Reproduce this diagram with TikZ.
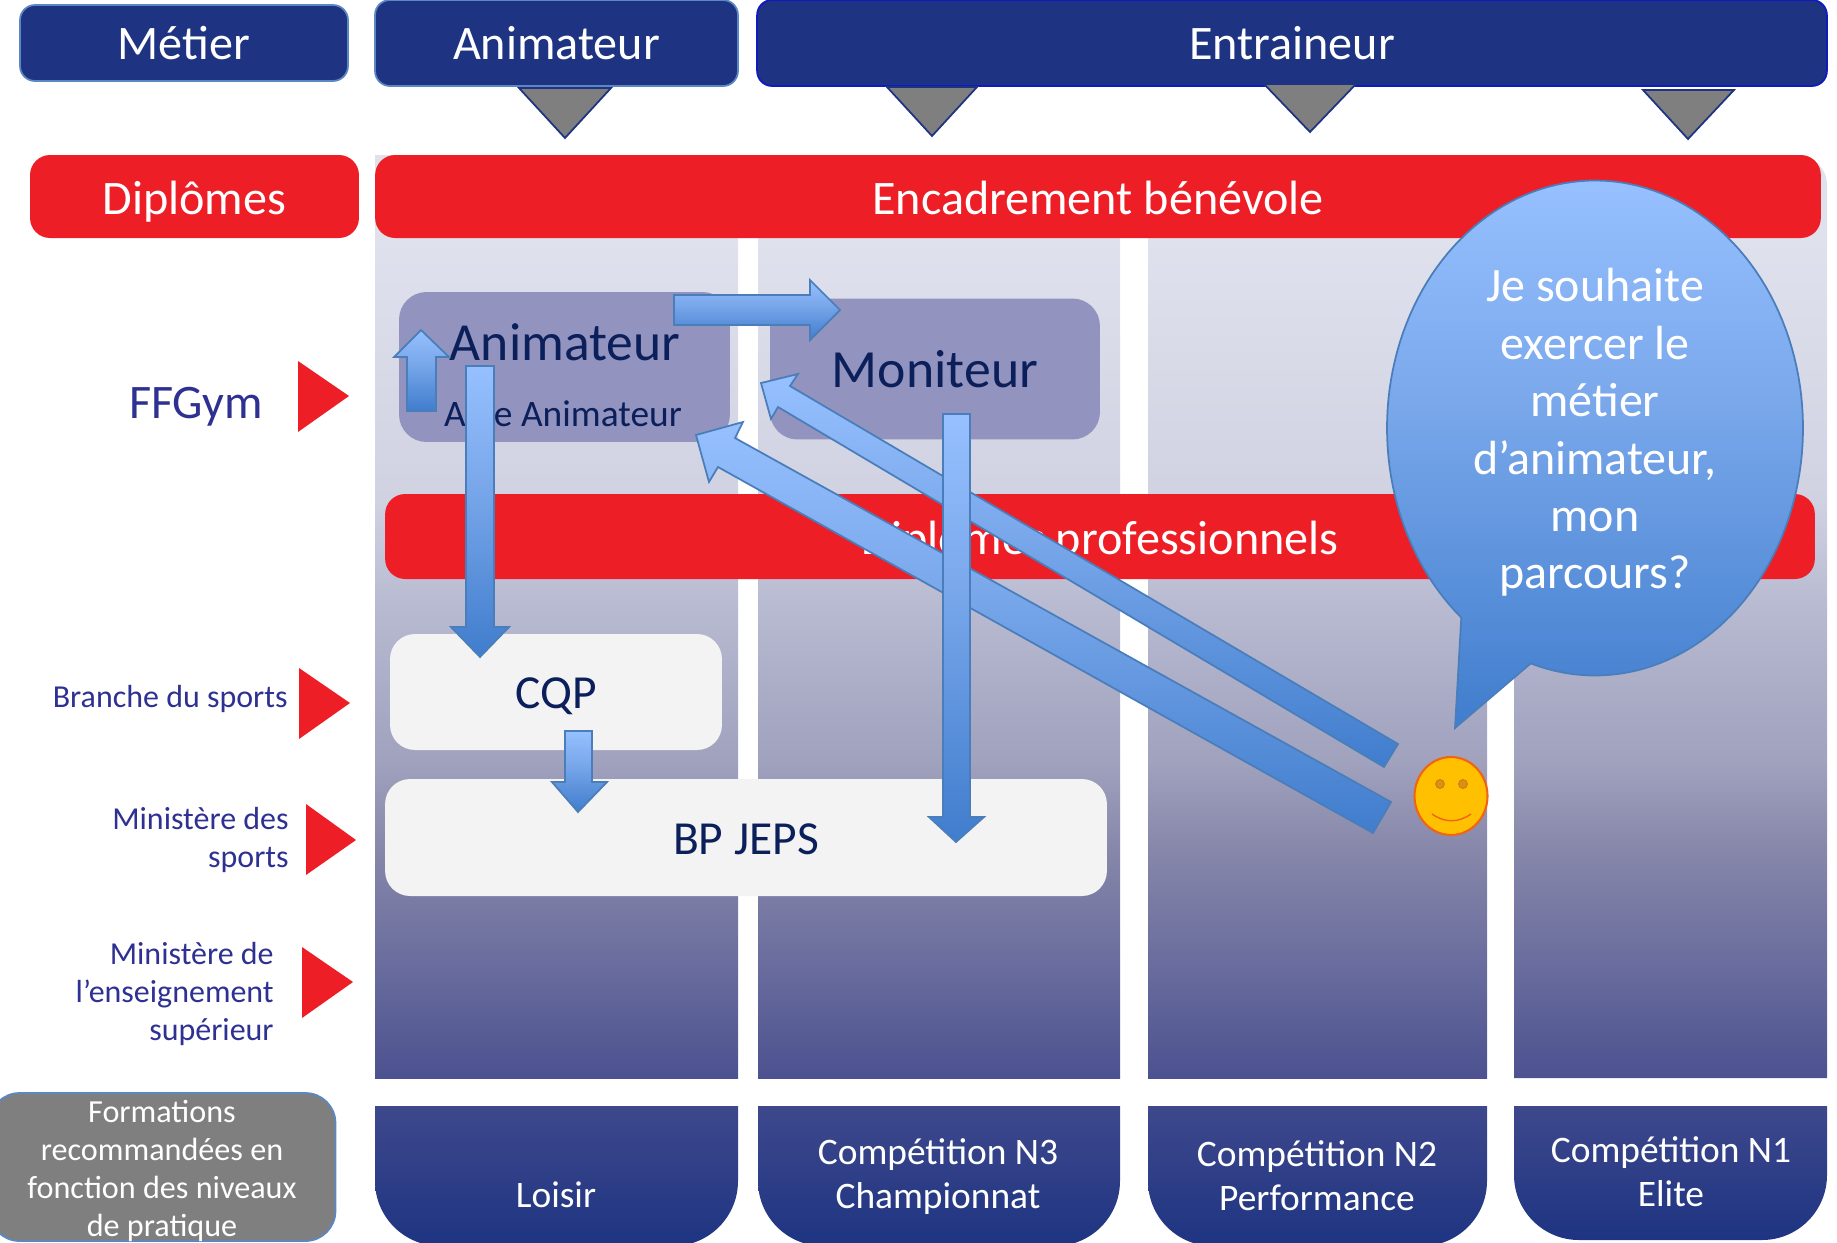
\documentclass[tikz,border=0pt]{standalone}
\usepackage{fontspec}
\setmainfont{Carlito}
\usetikzlibrary{positioning}
\definecolor{navy}{RGB}{30,52,130}
\definecolor{navytop}{RGB}{62,72,140}
\definecolor{navytext}{RGB}{11,31,91}
\definecolor{redbar}{RGB}{238,30,38}
\definecolor{labelblue}{RGB}{46,48,146}
\definecolor{greybox}{RGB}{127,127,127}
\definecolor{edgeblue}{RGB}{91,135,195}
\definecolor{purplebox}{RGB}{146,147,190}
\definecolor{palebox}{RGB}{243,243,243}
\definecolor{arrowtop}{RGB}{150,192,255}
\definecolor{arrowmid}{RGB}{122,168,235}
\definecolor{arrowbot}{RGB}{64,125,205}
\definecolor{arrowline}{RGB}{74,126,187}
\definecolor{smileface}{RGB}{255,192,0}
\definecolor{smileedge}{RGB}{240,100,20}
\definecolor{smileeye}{RGB}{205,150,20}
\definecolor{colA}{RGB}{76,82,144}
\definecolor{colB}{RGB}{135,135,170}
\definecolor{colC}{RGB}{160,162,190}
\definecolor{colD}{RGB}{185,187,210}
\definecolor{colE}{RGB}{208,210,226}
\definecolor{colF}{RGB}{223,225,237}
\pgfdeclareverticalshading{colgrad}{100bp}{
  color(0bp)=(colA);
  color(25bp)=(colA);
  color(37.4bp)=(colB);
  color(42.2bp)=(colC);
  color(50.9bp)=(colD);
  color(56.3bp)=(colE);
  color(70.5bp)=(colF);
  color(100bp)=(colF)}
\pgfdeclareverticalshading{arrowgrad}{100bp}{
  color(0bp)=(arrowbot);
  color(25bp)=(arrowbot);
  color(55bp)=(arrowmid);
  color(75bp)=(arrowtop);
  color(100bp)=(arrowtop)}
\tikzset{
  headbox/.style={draw=edgeblue, line width=1pt, fill=navy, rounded corners=0.3cm, inner sep=0, text=white, text height=18.4pt, text depth=0pt, font=\fontsize{27.4}{32}\selectfont},
  redbox/.style={fill=redbar, rounded corners=0.4cm, inner sep=0, text=white, text height=20pt, text depth=0pt, font=\fontsize{27.4}{32}\selectfont},
  rolebox/.style={fill=purplebox, rounded corners=0.55cm, inner sep=0},
  whitebox/.style={fill=palebox, rounded corners=0.5cm, inner sep=0, text=navytext, text height=19pt, text depth=0pt, font=\fontsize{27}{32}\selectfont},
  pointer/.style={draw=navy, line width=1pt, fill=greybox},
  redmark/.style={fill=redbar},
  sidelabel/.style={text=labelblue, align=right, inner sep=0, font=\fontsize{18.2}{21.6}\selectfont},
  levelbox/.style={top color=navytop, bottom color=navy},
  leveltext/.style={text=white, align=center, inner sep=0, font=\fontsize{21.3}{25}\selectfont},
  bluearrow/.style={draw=arrowline, line width=1pt, shading=arrowgrad},
}
\begin{document}
\begin{tikzpicture}[x=0.02cm,y=-0.02cm]
  \useasboundingbox (0,0) rectangle (1837,1242);
  \clip (0,0) rectangle (1837,1242);

  % Level columns
  \shade[shading=colgrad] (375,155) rectangle (738,1078);
  \shade[shading=colgrad] (758,155) rectangle (1120,1078);
  \shade[shading=colgrad] (1148,155) rectangle (1487,1078);
  \shade[shading=colgrad] (1514,1078) -- (1514,155) [rounded corners=0.6cm] -- (1827,155) [sharp corners] -- (1827,1078) -- cycle;

  % Header row
  \node[headbox, minimum width=6.56cm, minimum height=1.52cm] (metier) at (184,43) {Métier};
  \node[headbox, minimum width=7.26cm, minimum height=1.72cm] (animateur) at (556.5,43) {Animateur};
  \node[headbox, draw=blue!50!navy, minimum width=21.4cm, minimum height=1.72cm] (entraineur) at (1292,43) {Entraineur};

  \draw[pointer] (519,88) -- (611,88) -- (565,138) -- cycle;
  \draw[pointer] (887,87) -- (977,87) -- (932,136) -- cycle;
  \draw[pointer] (1264,84) -- (1356,84) -- (1310,132) -- cycle;
  \draw[pointer] (1643,90) -- (1734,90) -- (1688,139) -- cycle;

  % Diploma bars
  \node[redbox, minimum width=6.58cm, minimum height=1.66cm] (diplomes) at (194.5,196.5) {Diplômes};
  \node[redbox, minimum width=28.92cm, minimum height=1.66cm] (encadrement) at (1098,196.5) {Encadrement bénévole};
  \node[redbox, minimum width=28.6cm, minimum height=1.7cm] (professionnels) at (1100,536.5) {Diplômes professionnels};

  % Diplomas inside the columns
  \node[rolebox, minimum width=6.62cm, minimum height=3cm] (animbox) at (564.5,367) {};
  \node[text=navytext, inner sep=0, font=\fontsize{30.5}{36}\selectfont] (animtext) at (565,342) {Animateur};
  \node[text=navytext, inner sep=0, font=\fontsize{21.3}{26}\selectfont] (aidetext) at (563,414) {Aide Animateur};
  \node[rolebox, minimum width=6.6cm, minimum height=2.82cm, text=navytext, font=\fontsize{30.6}{36}\selectfont] (moniteur) at (935,369) {Moniteur};
  \node[whitebox, minimum width=6.64cm, minimum height=2.32cm] (cqp) at (556,692) {CQP};
  \node[whitebox, minimum width=14.44cm, minimum height=2.34cm] (bpjeps) at (746,837.5) {BP JEPS};

  % Side labels
  \node[text=labelblue, inner sep=0, font=\fontsize{27.4}{32}\selectfont] (ffgym) at (196,407) {FFGym};
  \node[sidelabel, anchor=east] (branche) at (288,698.5) {Branche du sports};
  \node[sidelabel, anchor=east] (minsports) at (289,840) {Ministère des\\sports};
  \node[sidelabel, anchor=east] (minens) at (274,994) {Ministère de\\l’enseignement\\supérieur};

  \fill[redmark] (298,361) -- (349,396) -- (298,432) -- cycle;
  \fill[redmark] (299,668) -- (350,703) -- (299,739) -- cycle;
  \fill[redmark] (306,804) -- (356,840) -- (306,875) -- cycle;
  \fill[redmark] (302,947) -- (353,982) -- (302,1018) -- cycle;

  % Practice levels
  \node[draw=edgeblue, line width=1pt, fill=greybox, rounded corners=0.6cm, minimum width=6.92cm, minimum height=2.96cm] (formations) at (162.5,1167) {};
  \node[text=white, align=center, inner sep=0, font=\fontsize{18.3}{21.8}\selectfont] (formtext) at (162,1171) {Formations\\recommandées en\\fonction des niveaux\\de pratique};
  \shade[levelbox] (375,1106) -- (738,1106) [rounded corners=1.3cm] -- (738,1246) -- (375,1246) [sharp corners] -- cycle;
  \shade[levelbox] (758,1106) -- (1120,1106) [rounded corners=1.3cm] -- (1120,1246) -- (758,1246) [sharp corners] -- cycle;
  \shade[levelbox] (1148,1106) -- (1487,1106) [rounded corners=1.3cm] -- (1487,1246) -- (1148,1246) [sharp corners] -- cycle;
  \shade[levelbox] (1514,1106) -- (1827,1106) [rounded corners=1.3cm] -- (1827,1240) -- (1514,1240) [sharp corners] -- cycle;
  \node[leveltext] (loisir) at (556,1195) {Loisir};
  \node[leveltext] (niveau3) at (938,1177) {Compétition N3\\Championnat};
  \node[leveltext] (niveau2) at (1317,1176) {Compétition N2\\Performance};
  \node[leveltext] (niveau1) at (1671,1172) {Compétition N1\\Elite};

  % Block arrows
  \draw[bluearrow] (674,295) -- (810,295) -- (810,280) -- (840,310) -- (810,340) -- (810,325) -- (674,325) -- cycle;
  \draw[bluearrow] (407,411) -- (407,357) -- (394,357) -- (421,330) -- (449,357) -- (436,357) -- (436,411) -- cycle;
  \draw[bluearrow] (466,366) -- (494,366) -- (494,627) -- (509,627) -- (480,657) -- (451,627) -- (466,627) -- cycle;
  \draw[bluearrow] (565,731) -- (592,731) -- (592,782) -- (607,782) -- (578,812) -- (552,782) -- (565,782) -- cycle;
  \draw[bluearrow] (761,383) -- (798,374) -- (790,386) -- (1398,744) -- (1384,767) -- (778,407) -- (771,419) -- cycle;
  \draw[bluearrow] (696,435) -- (743,422) -- (735,438) -- (1391,802) -- (1373,833) -- (718,467) -- (709,482) -- cycle;
  \draw[bluearrow] (943,414) -- (970,414) -- (970,817) -- (984,817) -- (956,842) -- (929,817) -- (943,817) -- cycle;

  % Speech bubble
  \draw[bluearrow] plot[domain=130:468,samples=150] ({1595+208*cos(\x)},{428+247.5*sin(\x)}) -- (1455,728) -- cycle;
  \node[text=white, align=center, inner sep=0, font=\fontsize{27.3}{32.7}\selectfont] (question) at (1595,432.5) {Je souhaite\\exercer le\\métier\\d’animateur,\\mon\\parcours?};

  % Smiley
  \draw[draw=smileedge, line width=1.2pt, fill=smileface] (1451,796) ellipse [x radius=0.73cm, y radius=0.78cm];
  \draw[smileedge, fill=smileeye, line width=0.4pt] (1440,784) circle [radius=0.09cm];
  \draw[smileedge, fill=smileeye, line width=0.4pt] (1463,784) circle [radius=0.09cm];
  \draw[smileedge, line width=0.8pt] (1432,814) .. controls (1445,823) and (1458,823) .. (1471,814);
\end{tikzpicture}
\end{document}
